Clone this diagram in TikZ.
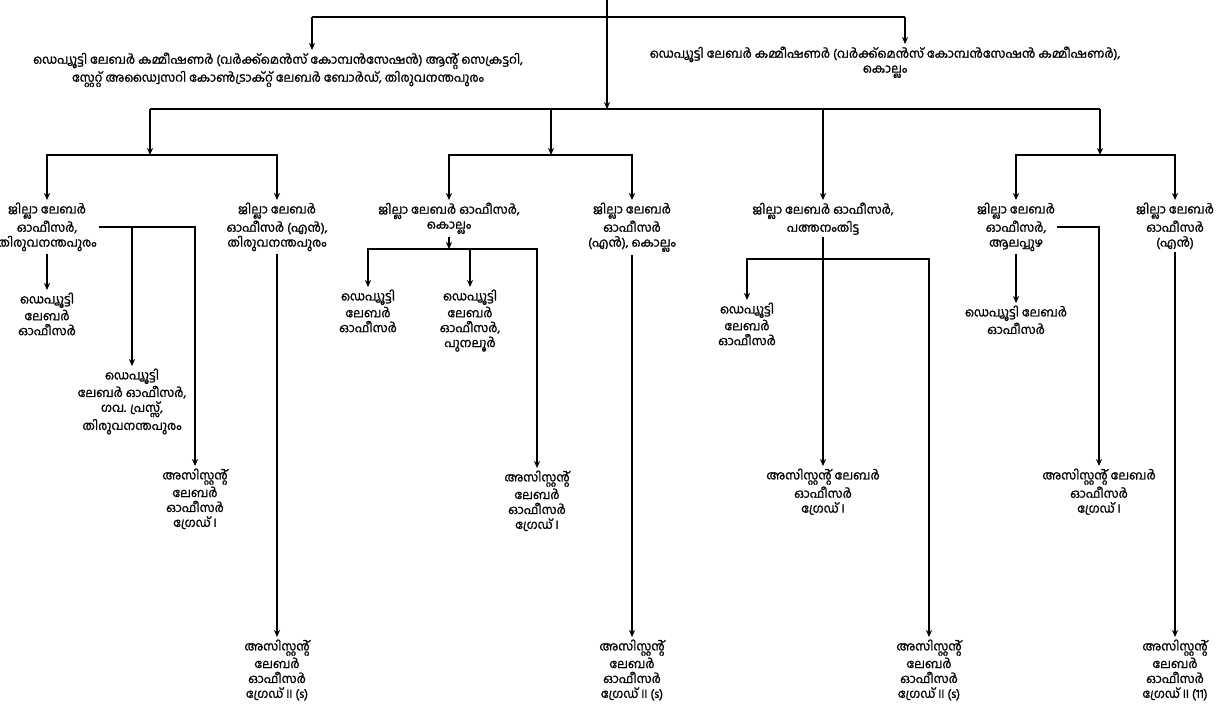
\documentclass[tikz,border=0pt]{standalone}
\usepackage{fontspec}
\newfontfamily\mlfont[Script=Malayalam, FakeBold=1.2]{Hind Kochi}
\usetikzlibrary{arrows.meta}

\tikzset{
  lbl/.style={align=center, anchor=north, inner sep=1pt, font=\mlfont\fontsize{7}{8.5}\selectfont},
  arr/.style={-{Stealth[length=4pt,width=3.5pt]}},
}

\begin{document}
\begin{tikzpicture}[x=0.02cm, y=-0.02cm, line width=0.9pt]
    \useasboundingbox (0,0) rectangle (1229,710);

    % top level
    \node[lbl] (dlcA) at (278, 50) {ഡെപ്യൂട്ടി ലേബർ കമ്മീഷണർ (വർക്ക്മെൻസ് കോമ്പൻസേഷൻ) ആന്റ് സെക്രട്ടറി,\\സ്റ്റേറ്റ് അഡ്വൈസറി കോൺട്രാക്റ്റ് ലേബർ ബോർഡ്, തിരുവനന്തപുരം};
    \node[lbl] (dlcB) at (885, 44) {ഡെപ്യൂട്ടി ലേബർ കമ്മീഷണർ (വർക്ക്മെൻസ് കോമ്പൻസേഷൻ കമ്മീഷണർ),\\കൊല്ലം};

    % district officers
    \node[lbl] (jloTVM) at (47, 200) {ജില്ലാ ലേബർ\\ഓഫീസർ,\\തിരുവനന്തപുരം};
    \node[lbl] (jlonTVM) at (277, 200) {ജില്ലാ ലേബർ\\ഓഫീസർ (എൻ),\\തിരുവനന്തപുരം};
    \node[lbl] (jloKLM) at (449, 200) {ജില്ലാ ലേബർ ഓഫീസർ,\\കൊല്ലം};
    \node[lbl] (jlonKLM) at (632, 200) {ജില്ലാ ലേബർ\\ഓഫീസർ\\(എൻ), കൊല്ലം};
    \node[lbl] (jloPTA) at (823, 200) {ജില്ലാ ലേബർ ഓഫീസർ,\\പത്തനംതിട്ട};
    \node[lbl] (jloALP) at (1016, 200) {ജില്ലാ ലേബർ\\ഓഫീസർ,\\ആലപ്പുഴ};
    \node[lbl] (jlonX) at (1175, 200) {ജില്ലാ ലേബർ\\ഓഫീസർ\\(എൻ)};

    % deputy labour officers
    \node[lbl] (dloTVM) at (47, 290) {ഡെപ്യൂട്ടി\\ലേബർ\\ഓഫീസർ};
    \node[lbl] (dloPress) at (132, 366) {ഡെപ്യൂട്ടി\\ലേബർ ഓഫീസർ,\\ഗവ. പ്രസ്സ്,\\തിരുവനന്തപുരം};
    \node[lbl] (dloKLM) at (368, 287) {ഡെപ്യൂട്ടി\\ലേബർ\\ഓഫീസർ};
    \node[lbl] (dloPUN) at (470, 287) {ഡെപ്യൂട്ടി\\ലേബർ\\ഓഫീസർ,\\പുനലൂർ};
    \node[lbl] (dloPTA) at (747, 300) {ഡെപ്യൂട്ടി\\ലേബർ\\ഓഫീസർ};
    \node[lbl] (dloALP) at (1016, 303) {ഡെപ്യൂട്ടി ലേബർ\\ഓഫീസർ};

    % assistant labour officers grade I
    \node[lbl] (agTVM) at (195, 466) {അസിസ്റ്റന്റ്\\ലേബർ\\ഓഫീസർ\\ഗ്രേഡ് I};
    \node[lbl] (agKLM) at (537, 468) {അസിസ്റ്റന്റ്\\ലേബർ\\ഓഫീസർ\\ഗ്രേഡ് I};
    \node[lbl] (agPTA) at (823, 466) {അസിസ്റ്റന്റ് ലേബർ\\ഓഫീസർ\\ഗ്രേഡ് I};
    \node[lbl] (agALP) at (1099, 466) {അസിസ്റ്റന്റ് ലേബർ\\ഓഫീസർ\\ഗ്രേഡ് I};

    % assistant labour officers grade II
    \node[lbl] (bgTVM) at (277, 637) {അസിസ്റ്റന്റ്\\ലേബർ\\ഓഫീസർ\\ഗ്രേഡ് II (s)};
    \node[lbl] (bgKLM) at (632, 637) {അസിസ്റ്റന്റ്\\ലേബർ\\ഓഫീസർ\\ഗ്രേഡ് II (s)};
    \node[lbl] (bgPTA) at (929, 637) {അസിസ്റ്റന്റ്\\ലേബർ\\ഓഫീസർ\\ഗ്രേഡ് II (s)};
    \node[lbl] (bgX) at (1175, 637) {അസിസ്റ്റന്റ്\\ലേബർ\\ഓഫീസർ\\ഗ്രേഡ് II (11)};

    % junctions
    \coordinate (top) at (607, 0);
    \coordinate (tl) at (312, 17);
    \coordinate (tr) at (905, 17);
    \coordinate (l2L) at (150, 109);
    \coordinate (l2R) at (1100, 109);
    \coordinate (g1) at (150, 155);
    \coordinate (g2) at (551, 155);
    \coordinate (g3) at (1100, 155);
    \coordinate (kK) at (449, 249);
    \coordinate (kP) at (823, 259);

    % top connectors
    \draw (tl) -- (tr);
    \draw[arr] (tl) -- (tl |- dlcA.north);
    \draw[arr] (tr) -- (tr |- dlcB.north);
    \draw[arr] (top) -- (top |- l2L);

    % second level
    \draw (l2L) -- (l2R);
    \draw[arr] (l2L) -- (g1);
    \draw[arr] (g2 |- l2L) -- (g2);
    \draw[arr] (l2R) -- (g3);
    \draw[arr] (g1) -| (jloTVM.north);
    \draw[arr] (g1) -| (jlonTVM.north);
    \draw[arr] (g2) -| (jloKLM.north);
    \draw[arr] (g2) -| (jlonKLM.north);
    \draw[arr] (jloPTA.north |- l2L) -- (jloPTA.north);
    \draw[arr] (g3) -| (jloALP.north);
    \draw[arr] (g3) -| (jlonX.north);

    % Thiruvananthapuram
    \draw[arr] (jloTVM.south) -- (dloTVM.north);
    \draw[arr] (jloTVM.east) -| (agTVM.north);
    \draw[arr] (jloTVM.east -| dloPress.north) -- (dloPress.north);
    \draw[arr] (jlonTVM.south) -- (bgTVM.north);

    % Kollam
    \draw[arr] (jloKLM.south) -- (kK);
    \draw[arr] (kK) -| (dloKLM.north);
    \draw[arr] (dloPUN.north |- kK) -- (dloPUN.north);
    \draw[arr] (kK) -| (agKLM.north);
    \draw[arr] (jlonKLM.south) -- (bgKLM.north);

    % Pathanamthitta
    \draw[arr] (jloPTA.south) -- (agPTA.north);
    \draw[arr] (kP) -| (dloPTA.north);
    \draw[arr] (kP) -| (bgPTA.north);

    % Alappuzha
    \draw[arr] (jloALP.south) -- (dloALP.north);
    \draw[arr] (jloALP.east) -| (agALP.north);
    \draw[arr] (jlonX.south) -- (bgX.north);
\end{tikzpicture}
\end{document}
